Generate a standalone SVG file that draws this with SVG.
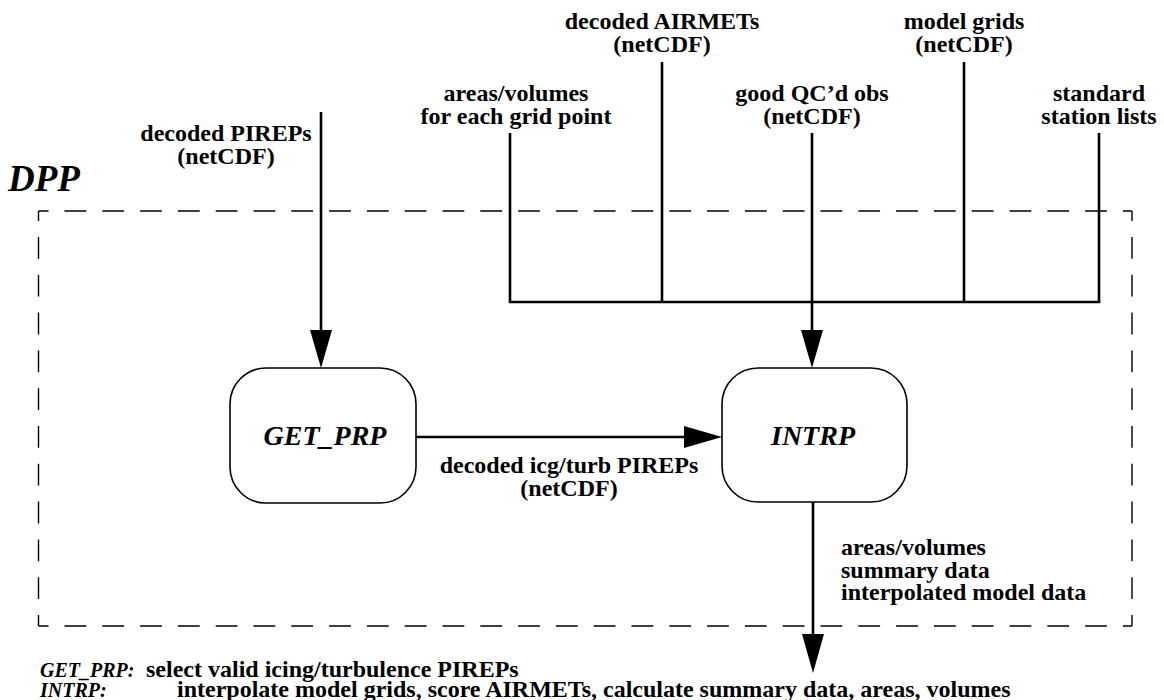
<svg xmlns="http://www.w3.org/2000/svg" width="1164" height="700" viewBox="0 0 1164 700">
<style>
.t{font-family:"Liberation Serif","Times New Roman",serif;font-weight:bold;font-size:24px;fill:#000}
.c{text-anchor:middle}
.bi{font-family:"Liberation Serif","Times New Roman",serif;font-weight:bold;font-style:italic;fill:#000}
.ln{stroke:#000;stroke-width:2.6;fill:none}
.ah{fill:#000;stroke:none}
.node{fill:#fff;stroke:#000;stroke-width:1.6}
.dash{stroke:#000;stroke-width:1.4;fill:none;stroke-dasharray:21.8 16;stroke-dashoffset:11.8}
</style>
<rect width="1164" height="700" fill="#fff"/>
<g id="dpp-boundary">
<text class="bi" x="8" y="191" font-size="37">DPP</text>
<line class="dash" x1="38.5" y1="211" x2="1132" y2="211"/>
<line class="dash" x1="38.5" y1="211" x2="38.5" y2="626"/>
<line class="dash" x1="1132" y1="211" x2="1132" y2="626"/>
<line class="dash" x1="38.5" y1="626" x2="1132" y2="626"/>
</g>
<g id="inputs">
<text class="t c" x="662" y="29">decoded AIRMETs</text>
<text class="t c" x="662" y="52">(netCDF)</text>
<text class="t c" x="964" y="29">model grids</text>
<text class="t c" x="964" y="52">(netCDF)</text>
<text class="t c" x="516" y="101">areas/volumes</text>
<text class="t c" x="516" y="124">for each grid point</text>
<text class="t c" x="812" y="101">good QC’d obs</text>
<text class="t c" x="812" y="124">(netCDF)</text>
<text class="t c" x="1099" y="101">standard</text>
<text class="t c" x="1099" y="124">station lists</text>
<text class="t c" x="226" y="141">decoded PIREPs</text>
<text class="t c" x="226" y="164">(netCDF)</text>
</g>
<g id="connectors">
<line class="ln" x1="662" y1="62" x2="662" y2="302"/>
<line class="ln" x1="964" y1="62" x2="964" y2="302"/>
<line class="ln" x1="510" y1="133" x2="510" y2="302"/>
<line class="ln" x1="1099" y1="133" x2="1099" y2="302"/>
<line class="ln" x1="508.7" y1="302" x2="1100.3" y2="302"/>
<line class="ln" x1="812" y1="133" x2="812" y2="340"/>
<polygon class="ah" points="801,330 823,330 812,368"/>
<line class="ln" x1="321" y1="112" x2="321" y2="340"/>
<polygon class="ah" points="310,330 332,330 321,368"/>
<line class="ln" x1="416" y1="437" x2="694" y2="437"/>
<polygon class="ah" points="684,426 684,448 722,437"/>
<line class="ln" x1="813" y1="502" x2="813" y2="645"/>
<polygon class="ah" points="802,634 824,634 813,673"/>
<text class="t c" x="569" y="473">decoded icg/turb PIREPs</text>
<text class="t c" x="569" y="496">(netCDF)</text>
<text class="t" x="841" y="555">areas/volumes</text>
<text class="t" x="841" y="577.5">summary data</text>
<text class="t" x="841" y="600">interpolated model data</text>
</g>
<g id="node-get-prp">
<rect class="node" x="230" y="368" width="186" height="135" rx="36" ry="36"/>
<text class="bi c" x="325" y="445" font-size="28">GET_PRP</text>
</g>
<g id="node-intrp">
<rect class="node" x="722" y="368" width="185" height="134" rx="36" ry="36"/>
<text class="bi c" x="813" y="445" font-size="28">INTRP</text>
</g>
<g id="legend">
<text class="bi" x="40" y="677" font-size="20">GET_PRP:</text>
<text class="t" x="146" y="677">select valid icing/turbulence PIREPs</text>
<text class="bi" x="40" y="697" font-size="20">INTRP:</text>
<text class="t" x="177" y="697">interpolate model grids, score AIRMETs, calculate summary data, areas, volumes</text>
</g>
</svg>
